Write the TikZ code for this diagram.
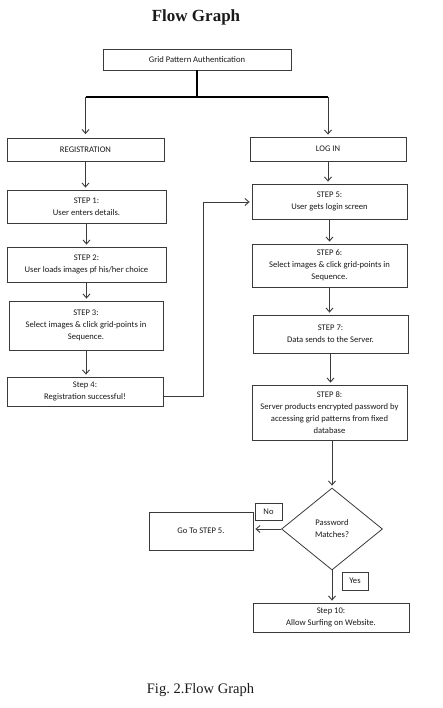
\documentclass[tikz,border=0pt]{standalone}
\usepackage{fontspec}
\setmainfont{Liberation Serif}
\newfontfamily\boxfont{Carlito}
\usetikzlibrary{arrows.meta,shapes.geometric}
\definecolor{ln}{HTML}{3A3A3A}
\definecolor{tx}{HTML}{1A1A1A}
\frenchspacing
\tikzset{
  fbox/.style={draw=ln,line width=0.8pt,inner sep=0pt,align=center,text=tx,
    font=\boxfont\fontsize{8.6}{12}\selectfont},
  conn/.style={draw=ln,line width=0.9pt,-{Straight Barb[length=4pt,width=7pt]},shorten >=2pt},
  plain/.style={draw=ln,line width=0.9pt},
}
\begin{document}
\begin{tikzpicture}[x=1pt,y=-1pt]
\useasboundingbox[fill=white] (0,0) rectangle (443,708);
\node[font=\bfseries\fontsize{17}{20}\selectfont,text=tx] (title) at (196,17.5) {Flow Graph};
\node[fbox,minimum width=188,minimum height=21] (top) at (197,59.5) {Grid Pattern Authentication};
\node[fbox,minimum width=157,minimum height=23] (reg) at (85.5,150) {REGISTRATION};
\node[fbox,minimum width=156,minimum height=24] (login) at (328,149) {LOG IN};
\node[fbox,minimum width=159,minimum height=33] (s1) at (86.5,206.5) {STEP 1:\\User enters details.};
\node[fbox,minimum width=159,minimum height=35] (s2) at (86.5,264.5) {STEP 2:\\User loads images pf his/her choice};
\node[fbox,minimum width=154,minimum height=49] (s3) at (86,325.5) {STEP 3:\\Select images \& click grid-points in\\Sequence.};
\node[fbox,minimum width=156,minimum height=29] (s4) at (85,391.5) {Step 4:\\Registration successful!};
\node[fbox,minimum width=155,minimum height=35] (s5) at (329.5,201.5) {STEP 5:\\User gets login screen};
\node[fbox,minimum width=155,minimum height=43] (s6) at (329.5,265.5) {STEP 6:\\Select images \& click grid-points in\\Sequence.};
\node[fbox,minimum width=155,minimum height=38] (s7) at (330.5,334) {STEP 7:\\Data sends to the Server.};
\node[fbox,minimum width=155,minimum height=55] (s8) at (329.5,412.5) {STEP 8:\\Server products encrypted password by\\accessing grid patterns from fixed\\database};
\node[fbox,shape=diamond,minimum width=101,minimum height=82] (dm) at (332,529) {Password\\Matches?};
\node[fbox,minimum width=104,minimum height=38] (go) at (201,531) {Go To STEP 5.};
\node[fbox,minimum width=27,minimum height=17] (no) at (268.5,511.5) {No};
\node[fbox,minimum width=26,minimum height=18] (yes) at (355,581) {Yes};
\node[fbox,minimum width=156,minimum height=29] (s10) at (331,617.5) {Step 10:\\Allow Surfing on Website.};
\node[font=\fontsize{14.5}{17}\selectfont,text=tx] (cap) at (200.5,690) {Fig. 2.Flow Graph};
% connectors
\coordinate (j) at (197,97);
\coordinate (jl) at (85.5,97);
\coordinate (jr) at (328,97);
\draw[plain,line width=1.3pt,draw=black] (top.south) -- (j);
\draw[plain,line width=1.3pt,draw=black] (jl) -- (jr);
\draw[conn,shorten >=4pt] (jl) -- (reg.north);
\draw[conn,shorten >=2pt] (jr) -- (login.north);
\draw[conn] (reg.south) -- (reg.south |- s1.north);
\draw[conn] (s1.south) -- (s1.south |- s2.north);
\draw[conn] (s2.south) -- (s2.south |- s3.north);
\draw[conn] (s3.south) -- (s3.south |- s4.north);
\coordinate (b1) at (203,396);
\coordinate (b2) at (203,202);
\draw[conn] (s4.east |- b1) -- (b1) -- (b2) -- (s5.west |- b2);
\draw[conn] (login.south) -- (login.south |- s5.north);
\draw[conn] (s5.south) -- (s5.south |- s6.north);
\draw[conn] (s6.south) -- (s6.south |- s7.north);
\draw[conn] (s7.south) -- (s7.south |- s8.north);
\draw[conn] (dm.north |- s8.south) -- (dm.north);
\draw[conn] (dm.west) -- (go.east |- dm.west);
\draw[conn] (dm.south) -- (dm.south |- s10.north);
\end{tikzpicture}
\end{document}
